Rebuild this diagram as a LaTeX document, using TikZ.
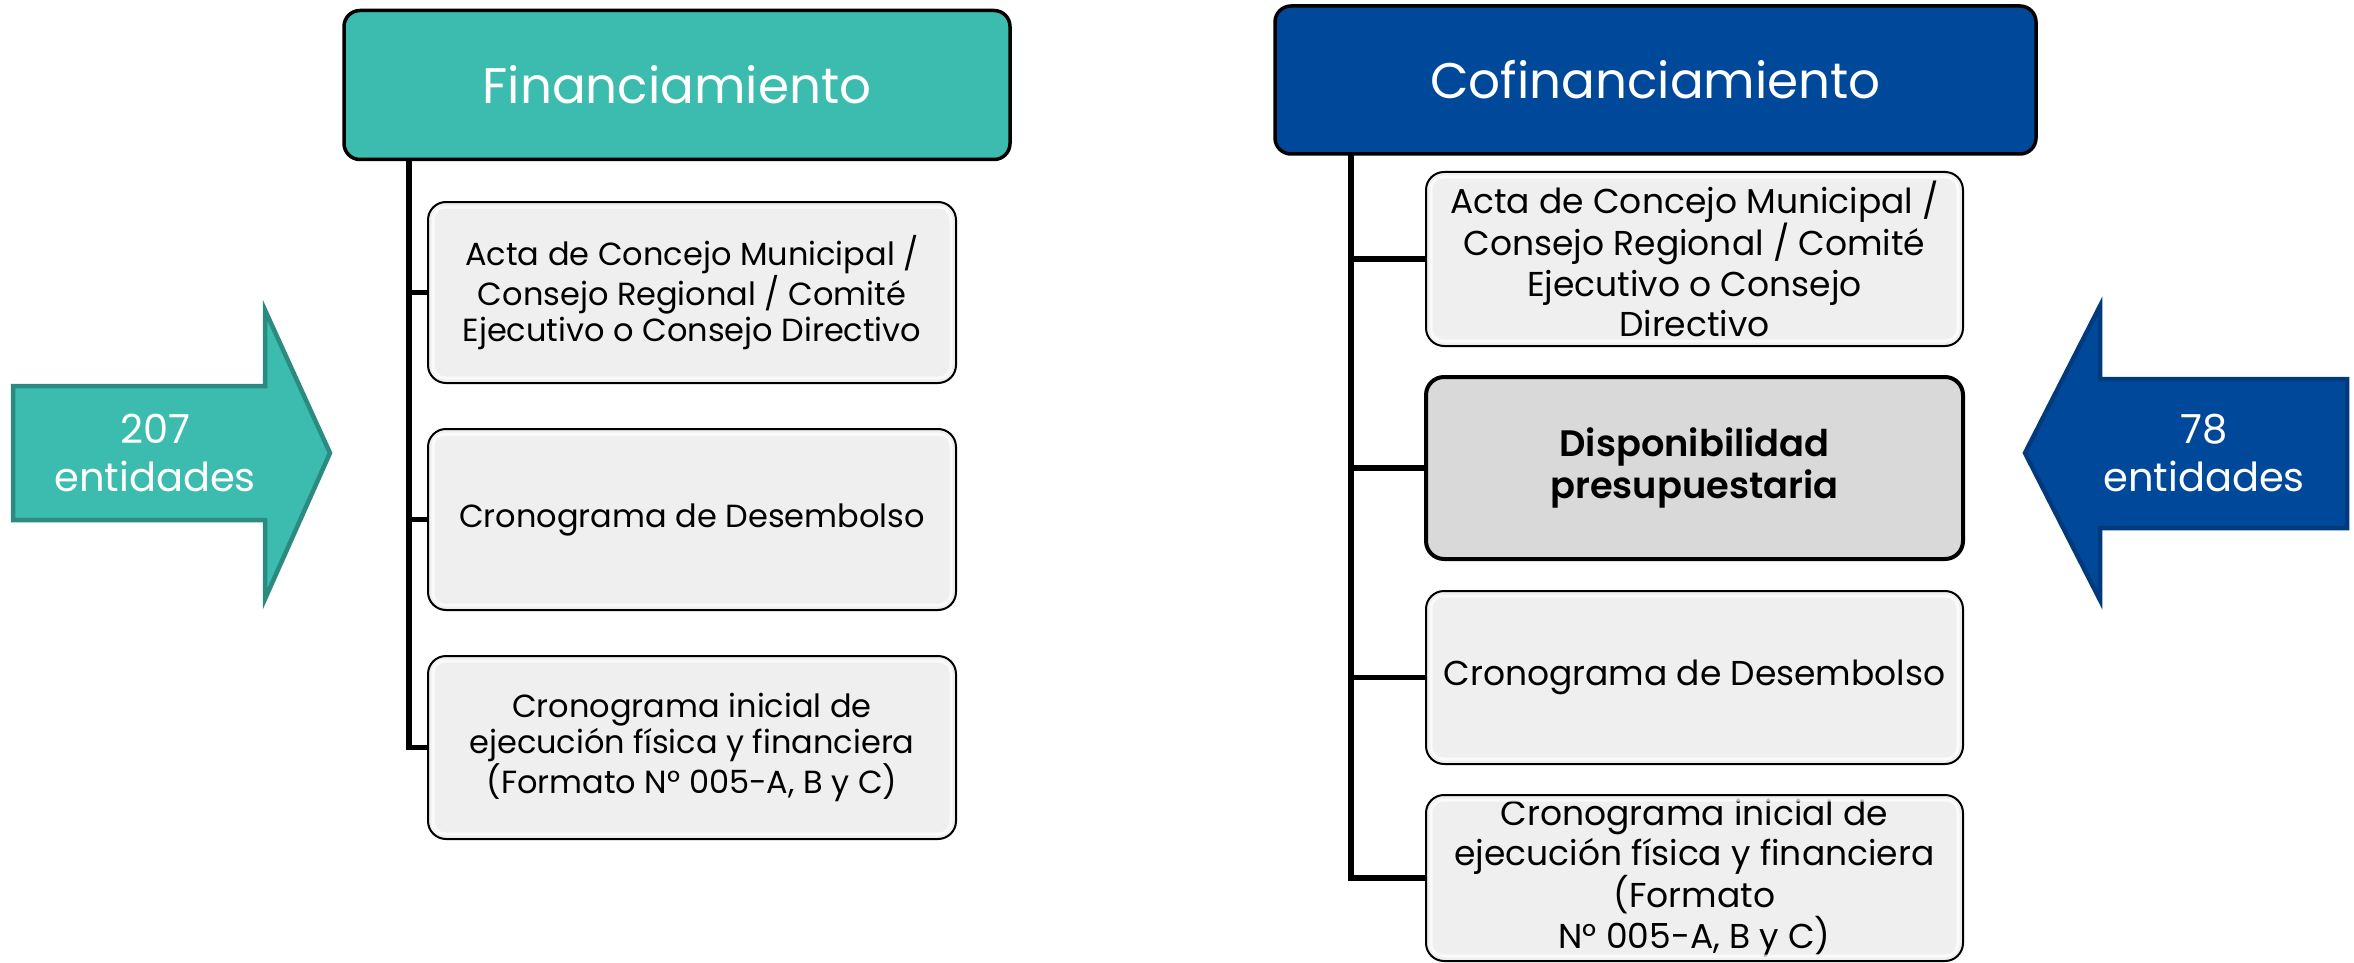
\documentclass[tikz,border=0pt]{standalone}
\usepackage{fontspec}
\setmainfont{Poppins}
\newfontfamily\semib{Poppins SemiBold}
\definecolor{teal1}{HTML}{3CBCAE}
\definecolor{teal2}{HTML}{2B8B80}
\definecolor{blue1}{HTML}{00489A}
\definecolor{blue2}{HTML}{003A7D}
\definecolor{boxgray}{HTML}{EFEFEF}
\definecolor{dispgray}{HTML}{D9D9D9}
\tikzset{
  hdr/.style={rounded corners=16pt, line width=3.5pt, draw=black, text=white,
    font=\fontsize{50}{60}\selectfont, inner sep=0pt},
  boxL/.style={rounded corners=18pt, line width=2pt, draw=black, fill=boxgray,
    align=center, font=\fontsize{32}{36}\selectfont, minimum width=528pt, inner sep=0pt},
  boxR/.style={rounded corners=18pt, line width=2pt, draw=black, fill=boxgray,
    align=center, font=\fontsize{34.5}{40.5}\selectfont, minimum width=537pt, inner sep=0pt},
  dispbox/.style={boxR, fill=dispgray, line width=4pt, font=\semib\fontsize{36.8}{42}\selectfont},
  bevel/.style={draw=white, line width=3pt, opacity=0.75, rounded corners=12pt},
  conn/.style={draw=black, line width=5.5pt, line join=miter},
  arrowtxt/.style={text=white, align=center, font=\fontsize{40}{48}\selectfont, inner sep=0pt},
  tealarrow/.style={fill=teal1, draw=teal2, line width=4.5pt, line join=miter},
  bluearrow/.style={fill=blue1, draw=blue2, line width=4.5pt, line join=miter}
}
\begin{document}
\begin{tikzpicture}[x=1pt,y=-1pt]
\useasboundingbox (0,0) rectangle (2354,963);

% ---------- left column ----------
\node[hdr, fill=teal1, minimum width=666pt, minimum height=149pt] (LH) at (677,85) {Financiamiento};
\node[boxL, minimum height=181pt] (L1) at (692,292.5)
  {Acta de Concejo Municipal /\\Consejo Regional / Comité\\Ejecutivo o Consejo Directivo};
\node[boxL, minimum height=181pt] (L2) at (692,519.5) {Cronograma de Desembolso};
\node[boxL, minimum height=183pt] (L3) at (692,747.5)
  {Cronograma inicial de\\ejecución física y financiera\\(Formato N° 005-A, B y C)};

\coordinate (LT) at (409,159);
\draw[conn] (LT) |- (L3.west);
\draw[conn] (LT |- L1.west) -- (L1.west);
\draw[conn] (LT |- L2.west) -- (L2.west);

% ---------- right column ----------
\node[hdr, fill=blue1, minimum width=761pt, minimum height=148pt] (RH) at (1655.5,80) {Cofinanciamiento};
\node[boxR, minimum height=174pt] (R1) at (1694.5,259)
  {Acta de Concejo Municipal /\\Consejo Regional / Comité\\Ejecutivo o Consejo\\Directivo};
\node[dispbox, minimum height=182pt] (R2) at (1694.5,468) {Disponibilidad\\presupuestaria};
\node[boxR, minimum height=173pt] (R3) at (1694.5,677.5) {Cronograma de Desembolso};
\node[boxR, minimum height=166pt] (R4) at (1694.5,878)
  {Cronograma inicial de\\ejecución física y financiera\\(Formato\\N° 005-A, B y C)};

\coordinate (RT) at (1351,154);
\draw[conn] (RT) |- (R4.west);
\draw[conn] (RT |- R1.west) -- (R1.west);
\draw[conn] (RT |- R2.west) -- (R2.west);
\draw[conn] (RT |- R3.west) -- (R3.west);

% bevel highlights
\foreach \b in {L1,L2,L3,R1,R3,R4}{
  \draw[bevel] ([shift={(6pt,-6pt)}]\b.north west) rectangle ([shift={(-6pt,6pt)}]\b.south east);
}

% ---------- arrows ----------
\draw[tealarrow] (13,386) -- (265,386) -- (265,310) -- (330,453) -- (265,599) -- (265,520) -- (13,520) -- cycle;
\node[arrowtxt] (LA) at (155,453) {207\\entidades};

\draw[bluearrow] (2347,379) -- (2100,379) -- (2100,306) -- (2025,453) -- (2100,600) -- (2100,528) -- (2347,528) -- cycle;
\node[arrowtxt] (RA) at (2204,453) {78\\entidades};
\end{tikzpicture}
\end{document}
